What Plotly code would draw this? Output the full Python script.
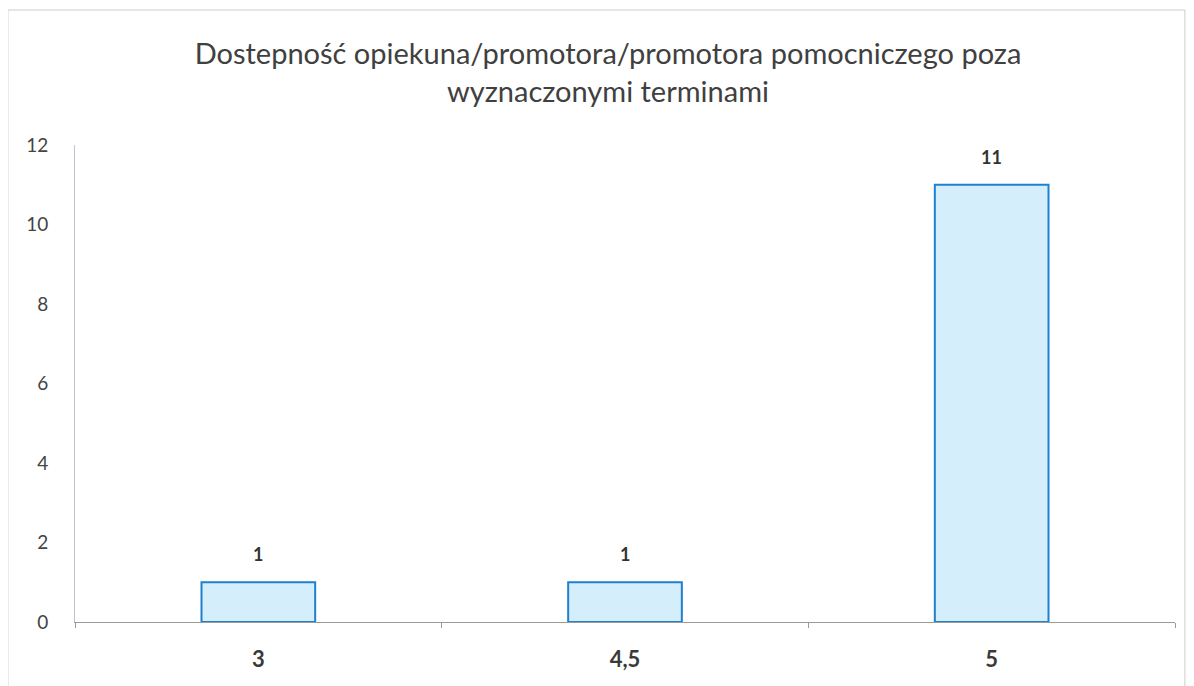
import plotly.graph_objects as go

categories = ["3", "4,5", "5"]
values = [1, 1, 11]
y_ticks = [0, 2, 4, 6, 8, 10, 12]
title_text = "Dostepność opiekuna/promotora/promotora pomocniczego poza<br>wyznaczonymi terminami"

fig = go.Figure()
fig.add_trace(go.Bar(
    x=categories, y=values,
    marker=dict(color="#d4effb", line=dict(color="#1f80cf", width=2)),
    width=0.31,
))
for i, v in enumerate(values):
    fig.add_annotation(x=i, y=v, text=str(v), showarrow=False, yanchor="bottom", yshift=15,
                       font=dict(family="Lato", size=18, color="#333333", weight="bold"))

fig.update_layout(
    width=1194, height=686,
    margin=dict(l=67, r=27, t=137, b=72, autoexpand=False),
    paper_bgcolor="white", plot_bgcolor="white",
    title=dict(text=title_text, x=0.5025, xanchor="center", y=0.918, yanchor="top",
               font=dict(family="Lato", size=29, color="#404040")),
    showlegend=False,
    xaxis=dict(type="category", showgrid=False, showline=True, linecolor="#9a9a9a", linewidth=1,
               ticks="outside", tickson="boundaries", ticklen=5, tickcolor="#9a9a9a",
               tickfont=dict(family="Lato", size=22, color="#3a3a3a", weight="bold"),
               ticklabelstandoff=18),
    yaxis=dict(range=[0, 12], tickvals=y_ticks, showgrid=False, showline=True,
               linecolor="#c8c0d0", linewidth=1, zeroline=False, ticks="",
               tickfont=dict(family="Lato", size=19, color="#444444"), ticklabelstandoff=22),
    shapes=[dict(type="rect", xref="paper", yref="paper", x0=-0.061, x1=1.009, y0=-0.2, y1=1.283,
                 line=dict(color="#cccccc", width=1))],
)

fig.write_html("out.html")
